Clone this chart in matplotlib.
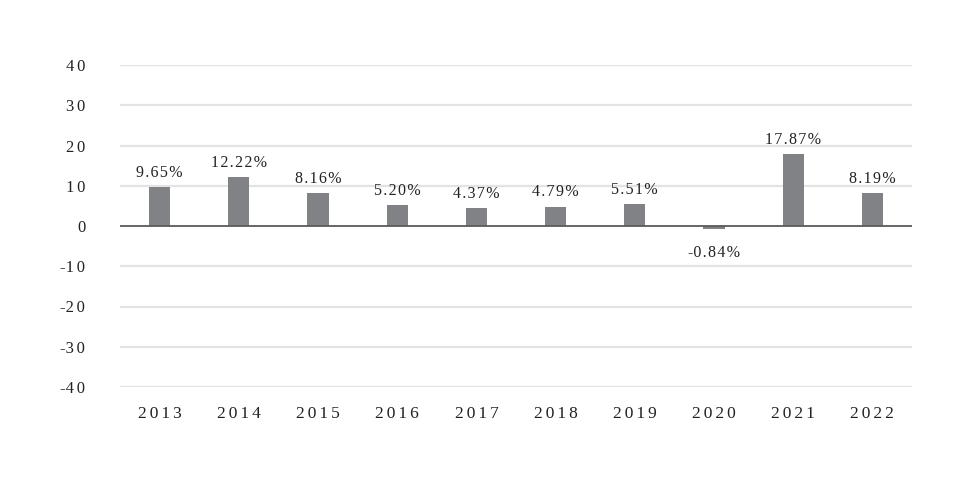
import matplotlib
matplotlib.use("Agg")
import matplotlib.pyplot as plt
from matplotlib.ticker import FixedLocator, FuncFormatter

years = ["2013", "2014", "2015", "2016", "2017", "2018", "2019", "2020", "2021", "2022"]
returns = [9.65, 12.22, 8.16, 5.20, 4.37, 4.79, 5.51, -0.84, 17.87, 8.19]
yticks = [-40, -30, -20, -10, 0, 10, 20, 30, 40]

TEXT = "#222222"
FONT = ["Liberation Serif", "DejaVu Serif"]
HAIR = "\u200a"


def spaced(s, sep):
    out = ""
    for i, ch in enumerate(s):
        out += ch
        if i < len(s) - 1 and ch != "-":
            out += sep
    return out


fig = plt.figure(figsize=(9.76, 4.88), dpi=100)
ax = fig.add_axes([120 / 976, 1 - 387 / 488, 792 / 976, 322 / 488])

x = list(range(len(years)))
ax.bar(x, returns, width=0.27, color="#808285", zorder=3)

ax.set_xlim(-0.5, len(years) - 0.5)
ax.set_ylim(-40, 40)

for v in yticks:
    if v != 0:
        ax.axhline(v, color="#e3e3e3", lw=1.6, zorder=1)
ax.axhline(0, color="#5a5a5a", lw=1.3, zorder=4)

ax.yaxis.set_major_locator(FixedLocator(yticks))
ax.yaxis.set_major_formatter(FuncFormatter(lambda v, p: spaced(str(int(v)), HAIR * 2)))
ax.set_xticks(x)
ax.set_xticklabels([spaced(y, HAIR * 2) for y in years])

for lab in ax.get_yticklabels():
    lab.set_fontfamily(FONT)
    lab.set_fontsize(12)
    lab.set_color(TEXT)
for lab in ax.get_xticklabels():
    lab.set_fontfamily(FONT)
    lab.set_fontsize(12.5)
    lab.set_color(TEXT)

ax.tick_params(axis="y", length=0, pad=25)
ax.tick_params(axis="x", length=0, pad=14)
for s in ax.spines.values():
    s.set_visible(False)

for xi, v in zip(x, returns):
    label = spaced(f"{v:.2f}%", HAIR)
    if v >= 0:
        ax.annotate(label, (xi, v), xytext=(0, 4.5), textcoords="offset points",
                    ha="center", va="bottom", fontsize=11.5, family=FONT, color=TEXT)
    else:
        ax.annotate(label, (xi, v), xytext=(0, -11.5), textcoords="offset points",
                    ha="center", va="top", fontsize=11.5, family=FONT, color=TEXT)

fig.savefig("out.png", dpi=100)
